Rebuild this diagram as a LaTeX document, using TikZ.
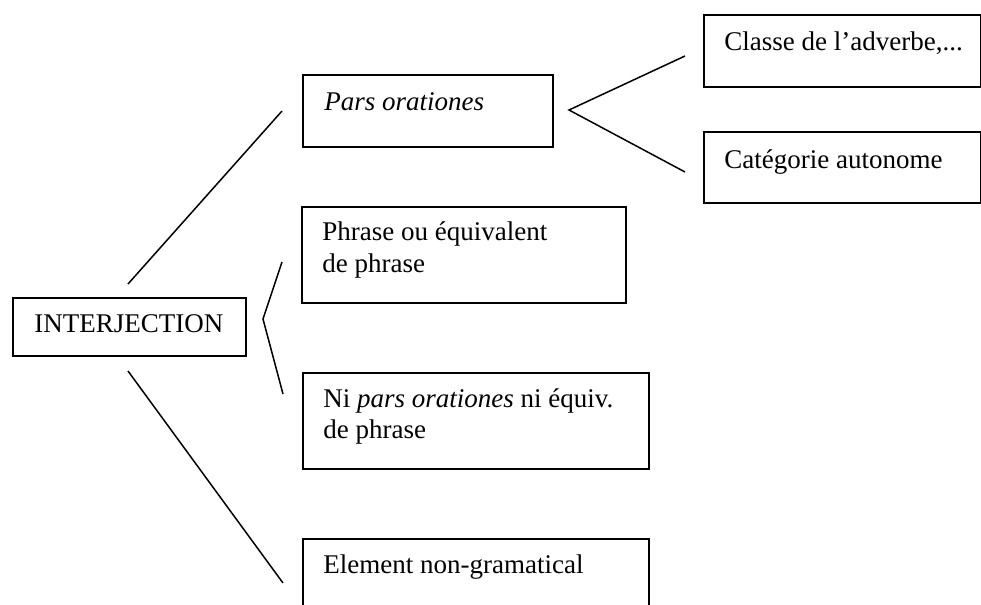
\documentclass[tikz,border=0pt]{standalone}
\usepackage{fontspec}
\setmainfont{Liberation Serif}
\begin{document}
\begin{tikzpicture}[x=0.5pt,y=-0.5pt,
  boxst/.style={draw=black,line width=0.9pt,rectangle,inner sep=0pt,anchor=north west},
  txt/.style={anchor=base west,inner sep=0pt,font=\fontsize{13.5}{16}\selectfont},
  conn/.style={draw=black,line width=0.75pt}]
\useasboundingbox (0,0) rectangle (981,605);
\clip (0,0) rectangle (981,605);
% boxes
\node[boxst,minimum width=116.5pt,minimum height=29pt] (interj) at (12,297) {};
\node[boxst,minimum width=125pt,minimum height=36pt] (pars) at (302,74) {};
\node[boxst,minimum width=138.5pt,minimum height=36pt] (classe) at (703,14) {};
\node[boxst,minimum width=138.5pt,minimum height=35.5pt] (categ) at (703,131) {};
\node[boxst,minimum width=162pt,minimum height=48pt] (phrase) at (301,206) {};
\node[boxst,minimum width=173pt,minimum height=48pt] (ni) at (302,372) {};
\node[boxst,minimum width=173pt,minimum height=45pt] (elem) at (302,538) {};
% texts
\node[txt] (tinterj) at (34,332) {INTERJECTION};
\node[txt] (tpars) at (324,110) {\itshape Pars orationes};
\node[txt] (tclasse) at (724,50) {Classe de l’adverbe,...};
\node[txt] (tcateg) at (724,168) {Catégorie autonome};
\node[txt] (tphrase1) at (322,240) {Phrase ou équivalent};
\node[txt] (tphrase2) at (322,272) {de phrase};
\node[txt] (tni1) at (323,407) {Ni \textit{pars orationes} ni équiv.};
\node[txt] (tni2) at (323,438) {de phrase};
\node[txt] (telem) at (323,573) {Element non-gramatical};
% connector end points
\coordinate (a1) at (128,284);
\coordinate (a2) at (282,111);
\coordinate (b1) at (282,262);
\coordinate (b0) at (263,319);
\coordinate (b2) at (283,394);
\coordinate (c1) at (128,371);
\coordinate (c2) at (283,583);
\coordinate (f0) at (569,110);
\coordinate (f1) at (685,56);
\coordinate (f2) at (685,172);
% connectors
\draw[conn] (a1) -- (a2);
\draw[conn] (b1) -- (b0) -- (b2);
\draw[conn] (c1) -- (c2);
\draw[conn] (f1) -- (f0) -- (f2);
\end{tikzpicture}
\end{document}
